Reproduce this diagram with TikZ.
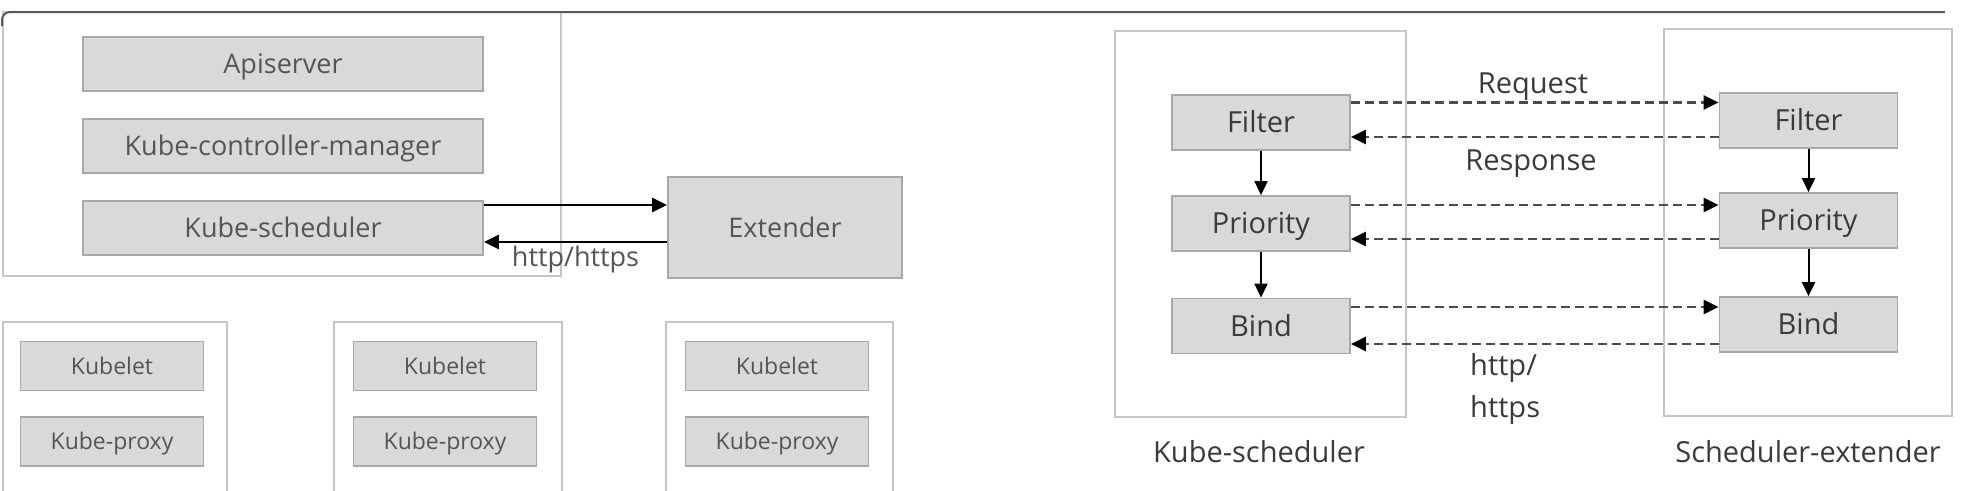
\documentclass[tikz,border=0pt]{standalone}
\usepackage{fontspec}
\setmainfont{Open Sans}
\usetikzlibrary{arrows.meta}
\definecolor{boxfill}{HTML}{D9D9D9}
\definecolor{boxline}{HTML}{A8A8A8}
\definecolor{frameline}{HTML}{C6C6C6}
\definecolor{txtlight}{HTML}{555555}
\definecolor{txtdark}{HTML}{3A3A3A}
\begin{document}
\begin{tikzpicture}[x=1pt,y=-1pt,
        comp/.style={draw=boxline, fill=boxfill, line width=1.8pt, inner sep=0pt, text depth=0pt},
        big/.style={font=\fontsize{27}{32}\selectfont, text=txtlight, text height=19.3pt},
        small/.style={font=\fontsize{23}{28}\selectfont, text=txtlight, text height=16.4pt},
        stage/.style={font=\fontsize{29}{34}\selectfont, text=txtdark, text height=20.7pt,
            minimum width=178pt, minimum height=55pt},
        note/.style={font=\fontsize{29}{34}\selectfont, text=txtdark, inner sep=0pt},
        frame/.style={draw=frameline, line width=1.8pt},
        link/.style={line width=2.4pt, -{Triangle[length=15pt,width=14pt]}},
        call/.style={line width=2.4pt, draw=black!70, dash pattern=on 9pt off 5pt,
            -{Triangle[length=15pt,width=14pt,color=black]}},
        flow/.style={line width=2pt, -{Triangle[length=14pt,width=13pt]}}]
    \useasboundingbox (0,0) rectangle (1970,490);

    % master side
    \draw[frame] (3,12) rectangle (561,276);
    \node[comp, big, minimum width=400pt, minimum height=54pt] (api) at (283,64) {Apiserver};
    \node[comp, big, minimum width=400pt, minimum height=54pt] (kcm) at (283,146) {Kube-controller-manager};
    \node[comp, big, minimum width=400pt, minimum height=54pt] (ks) at (283,228) {Kube-scheduler};
    \node[comp, big, minimum width=234pt, minimum height=101pt] (ext) at (785,227.5) {Extender};

    \draw[link] ([yshift=23pt]ks.east) -- ([yshift=23pt]ks.east -| ext.west);
    \draw[link] ([yshift=-14pt]ks.east -| ext.west) -- ([yshift=-14pt]ks.east)
        node[pos=0.5, below=3pt, font=\fontsize{27}{32}\selectfont, text=txtlight, inner sep=0pt] (proto) {http/https};

    % nodes
    \draw[frame] (3,495) -- (3,322) -- (227,322) -- (227,495);
    \draw[frame] (334,495) -- (334,322) -- (562,322) -- (562,495);
    \draw[frame] (666,495) -- (666,322) -- (893,322) -- (893,495);
    \node[comp, small, minimum width=183pt, minimum height=49pt] (kl1) at (112,366) {Kubelet};
    \node[comp, small, minimum width=183pt, minimum height=49pt] (kp1) at (112,441.5) {Kube-proxy};
    \node[comp, small, minimum width=183pt, minimum height=49pt] (kl2) at (445,366) {Kubelet};
    \node[comp, small, minimum width=183pt, minimum height=49pt] (kp2) at (445,441.5) {Kube-proxy};
    \node[comp, small, minimum width=183pt, minimum height=49pt] (kl3) at (777,366) {Kubelet};
    \node[comp, small, minimum width=183pt, minimum height=49pt] (kp3) at (777,441.5) {Kube-proxy};

    % scheduler and extender
    \draw[frame] (1115,31) rectangle (1406,417);
    \draw[frame] (1664,29) rectangle (1952,416);
    \node[comp, stage] (fl) at (1261,122.5) {Filter};
    \node[comp, stage] (pl) at (1261,223.5) {Priority};
    \node[comp, stage] (bl) at (1261,326) {Bind};
    \node[comp, stage] (fr) at (1808.5,120.5) {Filter};
    \node[comp, stage] (pr) at (1808.5,220.5) {Priority};
    \node[comp, stage] (br) at (1808.5,324.5) {Bind};

    \draw[flow] (fl) -- (pl);
    \draw[flow] (pl) -- (bl);
    \draw[flow] (fr) -- (pr);
    \draw[flow] (pr) -- (br);

    \draw[call] ([yshift=20pt]fl.east) -- ([yshift=20pt]fl.east -| fr.west);
    \draw[call] ([yshift=-14.5pt]fl.east -| fr.west) -- ([yshift=-14.5pt]fl.east);
    \draw[call] ([yshift=18.5pt]pl.east) -- ([yshift=18.5pt]pl.east -| pr.west);
    \draw[call] ([yshift=-15.5pt]pl.east -| pr.west) -- ([yshift=-15.5pt]pl.east);
    \draw[call] ([yshift=19pt]bl.east) -- ([yshift=19pt]bl.east -| br.west);
    \draw[call] ([yshift=-18pt]bl.east -| br.west) -- ([yshift=-18pt]bl.east);

    \node[note, anchor=base] (req) at (1533,93) {Request};
    \node[note, anchor=base] (resp) at (1531,170) {Response};
    \node[note, anchor=base west] (http) at (1470,375) {http/};
    \node[note, anchor=base west] (https) at (1470,417) {https};
    \node[note, anchor=base] (lks) at (1259,462) {Kube-scheduler};
    \node[note, anchor=base] (lse) at (1808,462) {Scheduler-extender};

    % card edge
    \draw[draw=black!65, line width=2pt, rounded corners=8pt] (2,26) -- (2,12) -- (1945,12);
\end{tikzpicture}
\end{document}
